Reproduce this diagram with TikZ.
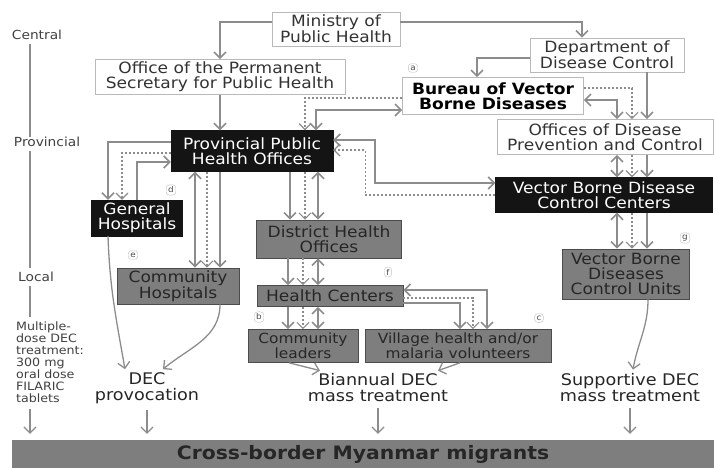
\documentclass[tikz,border=0pt]{standalone}
\usepackage{fontspec}
\setmainfont{DejaVu Sans}[FakeStretch=1.1]
\usetikzlibrary{arrows.meta,calc}
\definecolor{ln}{HTML}{8C8C8C}
\definecolor{gbox}{HTML}{7E7E7E}
\definecolor{bbox}{HTML}{141414}
\newcommand\fmain{\fontsize{15.5}{15}\selectfont}
\newcommand\fsmall{\fontsize{14}{13}\selectfont}
\newcommand\faxis{\fontsize{12.5}{12.5}\selectfont}
\begin{document}
\begin{tikzpicture}[x=1pt,y=-1pt,
  >={Straight Barb[length=6pt,width=12pt]},
  conn/.style={draw=ln,line width=1.6pt},
  dconn/.style={draw=ln,line width=1.1pt,dash pattern=on 2pt off 2pt},
  box/.style={align=center,inner sep=0pt,font=\fmain},
  wbox/.style={box,draw=gray!55,line width=0.7pt,fill=white,text=black!80},
  kbox/.style={box,draw=bbox,fill=bbox,text=white},
  gbx/.style={box,draw=gray!60!black,line width=0.6pt,fill=gbox,text=black!85},
  lett/.style={draw=gray!50,rounded corners=3pt,font=\fontsize{8}{8}\selectfont,inner sep=2pt,text=black!70},
  ttext/.style={align=center,inner sep=0pt,font=\fontsize{16}{16}\selectfont,text=black!85},
  axl/.style={inner sep=0pt,font=\faxis,text=black!75}]
\useasboundingbox (0,0) rectangle (714,468);
% axis
\node[axl] (cen) at (37,35) {Central};
\node[axl] (prov) at (47,142) {Provincial};
\node[axl] (loc) at (36,277) {Local};
\node[axl,align=left,font=\fontsize{11.5}{12}\selectfont] (mdt) at (50,362) {Multiple-\\dose DEC\\treatment:\\300 mg\\oral dose\\FILARIC\\tablets};
\draw[draw=ln,line width=1.2pt] (cen.south -| 30,0) ++(0,4) coordinate (a1) -- (a1 |- prov.north) ;
\draw[draw=ln,line width=1.2pt] ([yshift=-4pt]prov.south -| 30,0) -- ([yshift=4pt]loc.north -| 30,0);
\draw[draw=ln,line width=1.2pt] ([yshift=-4pt]loc.south -| 30,0) -- ([yshift=4pt]mdt.north -| 30,0);
% boxes
\node[wbox,minimum width=128,minimum height=34] (min) at (336,29) {Ministry of\\Public Health};
\node[wbox,minimum width=250,minimum height=35] (ops) at (220,77) {Office of the Permanent\\Secretary for Public Health};
\node[wbox,minimum width=154,minimum height=34] (ddc) at (607,55) {Department of\\Disease Control};
\node[wbox,minimum width=181,minimum height=37,font=\fmain\bfseries,text=black] (bvbd) at (493,96) {Bureau of Vector\\Borne Diseases};
\node[wbox,minimum width=216,minimum height=35] (odpc) at (605,137) {Offices of Disease\\Prevention and Control};
\node[kbox,minimum width=162,minimum height=41] (ppho) at (252,151) {Provincial Public\\Health Offices};
\node[kbox,minimum width=217,minimum height=35] (vbdcc) at (604,195) {Vector Borne Disease\\Control Centers};
\node[kbox,minimum width=91,minimum height=36] (gh) at (137,218) {General\\Hospitals};
\node[gbx,minimum width=145,minimum height=38] (dho) at (329,239) {District Health\\Offices};
\node[gbx,minimum width=122,minimum height=36] (ch) at (178,286) {Community\\Hospitals};
\node[gbx,minimum width=146,minimum height=21] (hc) at (330,296) {Health Centers};
\node[gbx,minimum width=110,minimum height=33,font=\fsmall] (cl) at (303,346) {Community\\leaders};
\node[gbx,minimum width=186,minimum height=33,font=\fsmall] (vil) at (458,346) {Village health and/or\\malaria volunteers};
\node[gbx,minimum width=127,minimum height=50] (vbdcu) at (626,274) {Vector Borne\\Diseases\\Control Units};
\node[ttext] (decp) at (147,388) {DEC\\provocation};
\node[ttext] (bian) at (378,388) {Biannual DEC\\mass treatment};
\node[ttext] (supp) at (630,388) {Supportive DEC\\mass treatment};
\node[box,fill=gbox,minimum width=702,minimum height=28,font=\fontsize{18.5}{18.5}\selectfont\bfseries,text=black!85] (bar) at (363,454) {Cross-border Myanmar migrants};
% letters
\node[lett] at (413,68) {a};
\node[lett] at (171,190) {d};
\node[lett] at (133,255) {e};
\node[lett] at (388,272) {f};
\node[lett] at (259,317) {b};
\node[lett] at (539,318) {c};
\node[lett] at (685,238) {g};
% connectors central
\draw[conn,->] ([yshift=7pt]min.west) -| (ops.north);
\draw[conn,->] ([yshift=7pt]min.east) -| ([xshift=-25pt]ddc.north);
\draw[conn,->] (ops.south) -- (ops.south |- ppho.north);
\draw[conn,->] ([yshift=-3pt]ddc.west) -| ([xshift=-16pt]bvbd.north);
\draw[conn,->] ([xshift=40pt]ddc.south) -- ([xshift=40pt]ddc.south |- odpc.north);
\draw[conn,<->] ([yshift=-4pt]bvbd.east) -| ([xshift=12pt]odpc.north);
\draw[dconn,->] ([yshift=8pt]bvbd.east) -| ([xshift=27pt]odpc.north);
% ppho - bureau
\draw[conn,<->] ([xshift=64pt]ppho.north) |- ([yshift=-14pt]bvbd.west);
\draw[dconn,->] ([yshift=-2pt]bvbd.west) -| ([xshift=53pt]ppho.north);
% ppho - vbdcc
\draw[conn,<->] ([yshift=11pt]ppho.east) -- ++(42,0) |- ([yshift=12pt]vbdcc.west);
\draw[dconn,->] (vbdcc.west) -| ([xshift=32pt,yshift=1pt]ppho.east) -- ([yshift=1pt]ppho.east);
% ppho - gh
\draw[conn,->] ([yshift=9pt]ppho.west) -| ([xshift=-29pt]gh.north);
\draw[dconn,->] ([yshift=-2pt]ppho.west) -| ([xshift=-15pt]gh.north);
\draw[conn,->] (gh.north) |- ([yshift=-11pt]ppho.west);
% ppho - ch
\draw[conn,<->] ([xshift=17pt]ch.north) -- ([xshift=17pt]ch.north |- ppho.south);
\draw[dconn,->] ([xshift=29pt]ch.north |- ppho.south) -- ([xshift=29pt]ch.north);
\draw[conn,->] ([xshift=42pt]ch.north |- ppho.south) -- ([xshift=42pt]ch.north);
% ppho - dho
\draw[conn,->] ([xshift=-39pt]dho.north |- ppho.south) -- ([xshift=-39pt]dho.north);
\draw[dconn,->] ([xshift=-24pt]dho.north |- ppho.south) -- ([xshift=-24pt]dho.north);
\draw[conn,<->] ([xshift=-11pt]dho.north |- ppho.south) -- ([xshift=-11pt]dho.north);
% dho - hc
\draw[conn,->] ([xshift=-41pt]dho.south) -- ([xshift=-41pt]dho.south |- hc.north);
\draw[dconn,->] ([xshift=-26pt]dho.south) -- ([xshift=-26pt]dho.south |- hc.north);
\draw[conn,<->] ([xshift=-11pt]dho.south) -- ([xshift=-11pt]dho.south |- hc.north);
% hc - cl
\draw[conn,->] ([xshift=-15pt]cl.north |- hc.south) -- ([xshift=-15pt]cl.north);
\draw[dconn,->] (cl.north |- hc.south) -- (cl.north);
\draw[conn,<->] ([xshift=15pt]cl.north |- hc.south) -- ([xshift=15pt]cl.north);
% hc - village
\draw[conn,<->] ([yshift=6pt]hc.east) -| ([xshift=29pt]vil.north);
\draw[dconn,->] ([yshift=-2pt]hc.east) -| ([xshift=15pt]vil.north);
\draw[conn,->] ([yshift=-7pt]hc.east) -| ([xshift=2pt]vil.north);
% odpc - vbdcc
\draw[conn,<->] ([xshift=12pt]odpc.south) -- ([xshift=12pt]odpc.south |- vbdcc.north);
\draw[dconn,->] ([xshift=27pt]odpc.south) -- ([xshift=27pt]odpc.south |- vbdcc.north);
\draw[conn,->] ([xshift=42pt]odpc.south) -- ([xshift=42pt]odpc.south |- vbdcc.north);
% vbdcc - vbdcu
\draw[conn,<->] ([xshift=12pt]odpc.south |- vbdcc.south) -- ([xshift=12pt]odpc.south |- vbdcu.north);
\draw[dconn,->] ([xshift=27pt]odpc.south |- vbdcc.south) -- ([xshift=27pt]odpc.south |- vbdcu.north);
\draw[conn,->] ([xshift=42pt]odpc.south |- vbdcc.south) -- ([xshift=42pt]odpc.south |- vbdcu.north);
% to outcomes
\draw[conn,->,line width=1.3pt] ([xshift=-29pt]gh.south) to[out=-88,in=100] ([xshift=-22pt,yshift=3pt]decp.north);
\draw[conn,->,line width=1.3pt] ([xshift=42pt]ch.south) to[out=-90,in=40] ([xshift=16pt,yshift=3pt]decp.north);
\draw[conn,->,line width=1.3pt] ([xshift=-14pt]cl.south) -- ([xshift=-58pt,yshift=3pt]bian.north);
\draw[conn,->,line width=1.3pt] ([xshift=2pt]vil.south) -- ([xshift=60pt,yshift=3pt]bian.north);
\draw[conn,->,line width=1.3pt] ([xshift=22pt]vbdcu.south) to[out=-90,in=80] ([xshift=3pt,yshift=4pt]supp.north);
% to bar
\draw[conn,->,line width=1.2pt] ([yshift=-6pt]mdt.south -| 30,0) -- ([yshift=6pt]bar.north -| 30,0);
\draw[conn,->,line width=1.2pt] ([yshift=-6pt]decp.south) -- ([yshift=6pt]decp.south |- bar.north);
\draw[conn,->,line width=1.2pt] ([yshift=-6pt]bian.south) -- ([yshift=6pt]bian.south |- bar.north);
\draw[conn,->,line width=1.2pt] ([yshift=-6pt]supp.south) -- ([yshift=6pt]supp.south |- bar.north);
\end{tikzpicture}
\end{document}
